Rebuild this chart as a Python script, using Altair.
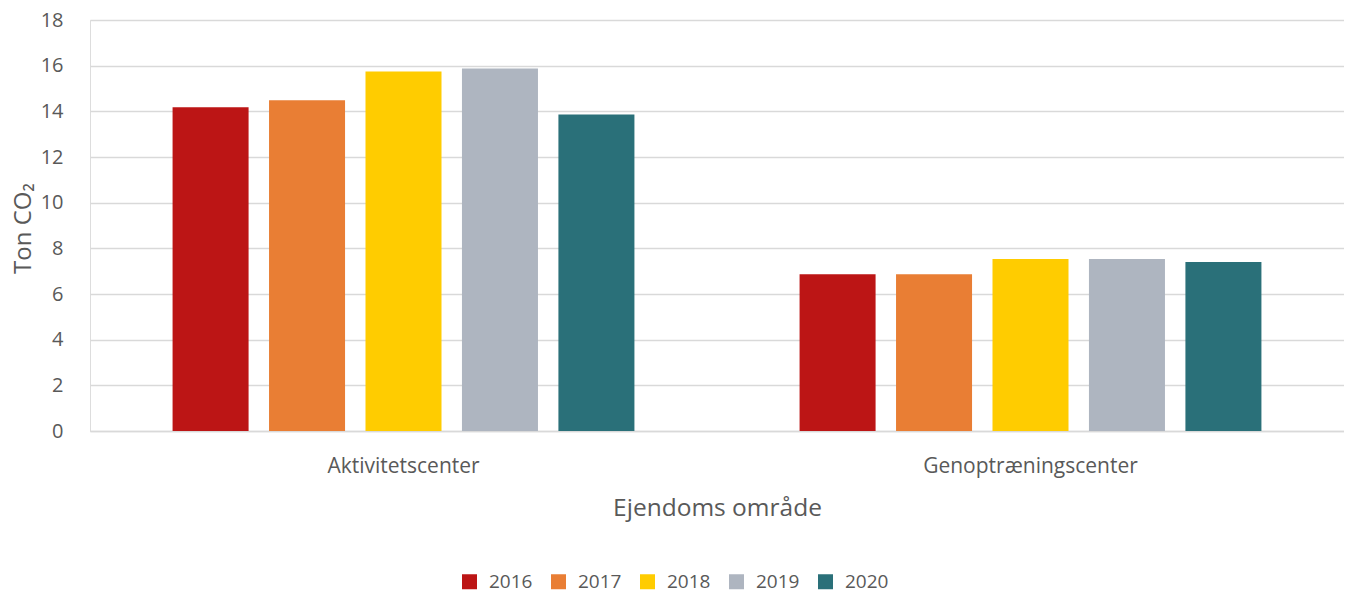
import altair as alt
import pandas as pd

categories = ["Aktivitetscenter", "Genoptræningscenter"]
years = ["2016", "2017", "2018", "2019", "2020"]
aktivitet = [14.18, 14.49, 15.75, 15.88, 13.86]
genop = [6.86, 6.86, 7.53, 7.53, 7.40]
colors = ["#BC1515", "#E97E34", "#FFCC00", "#AEB5C0", "#2A7079"]

rows = []
for y, v in zip(years, aktivitet):
    rows.append({"cat": categories[0], "year": y, "value": v})
for y, v in zip(years, genop):
    rows.append({"cat": categories[1], "year": y, "value": v})
df = pd.DataFrame(rows)

FONT = "Open Sans"
GREY = "#595959"

chart = alt.Chart(df).mark_bar().encode(
    x=alt.X("cat:N", sort=categories,
            scale=alt.Scale(paddingInner=0, paddingOuter=0),
            axis=alt.Axis(title="Ejendoms område", labelAngle=0, ticks=False, grid=False,
                          domain=True, domainColor="#D9D9D9", domainWidth=1.5,
                          labelFontSize=21, labelColor=GREY, labelFont=FONT, labelLimit=0,
                          labelPadding=24, titleFontSize=24.5, titleColor=GREY,
                          titleFont=FONT, titleFontWeight="normal", titlePadding=20)),
    xOffset=alt.XOffset("year:N", sort=years,
                        scale=alt.Scale(paddingInner=0.212, paddingOuter=0.856)),
    y=alt.Y("value:Q", scale=alt.Scale(domain=[0, 18], nice=False),
            axis=alt.Axis(title="Ton CO₂", values=list(range(0, 19, 2)), ticks=False,
                          domain=False, gridColor="#D9D9D9", gridWidth=1.5,
                          labelFontSize=20, labelColor=GREY, labelFont=FONT,
                          labelPadding=27, titleFontSize=24, titleColor=GREY,
                          titleFont=FONT, titleFontWeight="normal",
                          titleX=-67, titleY=208, titleAngle=270,
                          titleAlign="center", titleBaseline="middle")),
    color=alt.Color("year:N", sort=years,
                    scale=alt.Scale(domain=years, range=colors),
                    legend=alt.Legend(title=None, orient="none", direction="horizontal",
                                      legendX=370, legendY=552, symbolType="square",
                                      symbolSize=225, symbolStrokeWidth=0,
                                      labelFontSize=19, labelColor=GREY, labelFont=FONT,
                                      columnPadding=16, labelOffset=10)),
).properties(
    width=1254, height=411,
    autosize=alt.AutoSizeParams(type="none"),
    padding={"left": 82, "top": 12, "right": 0, "bottom": 160},
).configure_view(stroke=None).configure(background="white")

chart.save("out.html", embed_options={"renderer": "svg", "actions": False})
